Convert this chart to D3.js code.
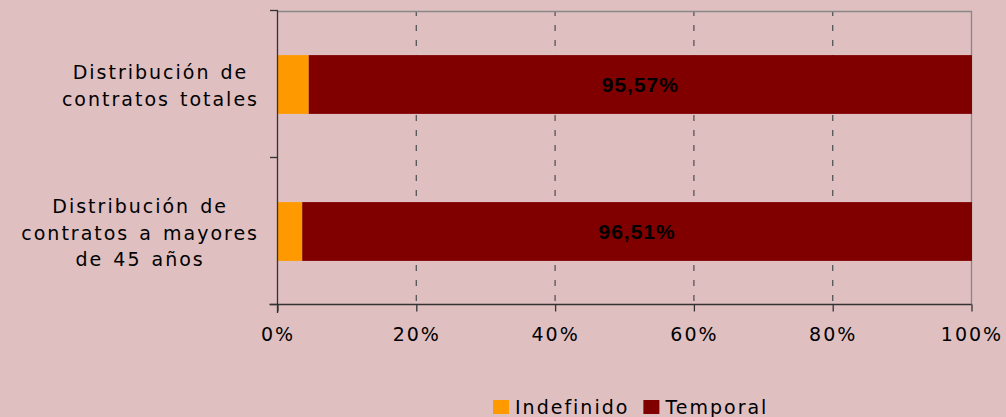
<!DOCTYPE html>
<html>
<head>
<meta charset="utf-8">
<script src="https://cdn.jsdelivr.net/npm/d3@7"></script>
<style>
  html, body { margin: 0; padding: 0; background: #dfbfc0; }
  svg { display: block; font-family: "DejaVu Sans", Verdana, sans-serif; }
</style>
</head>
<body>
<div id="chart"></div>
<script>
const categories = [
  ["Distribución de", "contratos totales"],
  ["Distribución de", "contratos a mayores", "de 45 años"]
];
const indefinido = [4.43, 3.49];
const temporal = [95.57, 96.51];
const seriesNames = ["Indefinido", "Temporal"];
const xTicks = [0, 20, 40, 60, 80, 100];

const colors = { Indefinido: "#ff9900", Temporal: "#800000" };

const width = 1006, height = 417;
const margin = { left: 278, right: 34, top: 11, bottom: 112 };
const fontSize = 19, spacing = "2px";

const svg = d3.select("#chart").append("svg")
  .attr("width", width)
  .attr("height", height);

svg.append("rect")
  .attr("width", width)
  .attr("height", height)
  .attr("fill", "#dfbfc0");

const x = d3.scaleLinear()
  .domain([0, 100])
  .range([margin.left, width - margin.right]);

const y = d3.scaleBand()
  .domain(d3.range(categories.length))
  .range([margin.top, height - margin.bottom])
  .paddingInner(0.6)
  .paddingOuter(0.3);

// dashed gridlines
svg.append("g")
  .selectAll("line")
  .data(xTicks.slice(1, -1))
  .join("line")
  .attr("x1", d => x(d) - 0.5)
  .attr("x2", d => x(d) - 0.5)
  .attr("y1", margin.top)
  .attr("y2", height - margin.bottom)
  .attr("stroke", "#555")
  .attr("stroke-width", 1.3)
  .attr("stroke-dasharray", "6,9")
  .attr("stroke-dashoffset", -14);

// top and right border
svg.append("path")
  .attr("d", `M${x(0)},${margin.top + 0.5}H${x(100) - 0.5}V${height - margin.bottom}`)
  .attr("fill", "none")
  .attr("stroke", "#888")
  .attr("stroke-width", 1.3);

// stacked bars
const rows = categories.map((c, i) => ({ i, ind: indefinido[i], tem: temporal[i] }));

svg.append("g")
  .selectAll("rect")
  .data(rows)
  .join("rect")
  .attr("x", x(0))
  .attr("y", d => y(d.i))
  .attr("width", d => x(d.ind) - x(0))
  .attr("height", y.bandwidth())
  .attr("fill", colors.Indefinido);

svg.append("g")
  .selectAll("rect")
  .data(rows)
  .join("rect")
  .attr("x", d => x(d.ind))
  .attr("y", d => y(d.i))
  .attr("width", d => x(d.ind + d.tem) - x(d.ind))
  .attr("height", y.bandwidth())
  .attr("fill", colors.Temporal);

svg.append("g")
  .selectAll("text")
  .data(rows)
  .join("text")
  .attr("x", d => x(d.ind + d.tem / 2))
  .attr("y", d => y(d.i) + y.bandwidth() / 2 + 7.5)
  .attr("text-anchor", "middle")
  .attr("font-family", "Arial, 'Liberation Sans', sans-serif")
  .attr("font-weight", "bold")
  .attr("font-size", 21)
  .attr("letter-spacing", "1px")
  .attr("fill", "#000")
  .text(d => d.tem.toFixed(2).replace(".", ",") + "%");

// axes
const yAxisG = svg.append("g");
yAxisG.append("line")
  .attr("x1", margin.left - 0.5).attr("x2", margin.left - 0.5)
  .attr("y1", margin.top).attr("y2", height - margin.bottom + 8)
  .attr("stroke", "#333")
  .attr("stroke-width", 1.3);
const yTickPos = [margin.top, (margin.top + height - margin.bottom) / 2, height - margin.bottom];
yAxisG.selectAll(".yt")
  .data(yTickPos)
  .join("line")
  .attr("x1", margin.left - 8).attr("x2", margin.left)
  .attr("y1", d => d - 0.5).attr("y2", d => d - 0.5)
  .attr("stroke", "#333")
  .attr("stroke-width", 1.3);

const xAxis = d3.axisBottom(x)
  .tickValues(xTicks)
  .tickSize(7)
  .tickFormat(d => d + "%");
const xg = svg.append("g")
  .attr("transform", `translate(-0.5,${height - margin.bottom - 0.5})`)
  .call(xAxis);
xg.select(".domain").attr("stroke", "#333").attr("stroke-width", 1.3)
  .attr("d", `M${x(0) - 8},0H${x(100)}`);
xg.selectAll(".tick line").attr("stroke", "#333").attr("stroke-width", 1.3);
xg.selectAll(".tick text")
  .attr("font-family", "'DejaVu Sans', Verdana, sans-serif")
  .attr("font-size", fontSize)
  .attr("letter-spacing", spacing)
  .attr("fill", "#000")
  .attr("y", 36.5)
  .attr("dy", 0);

// category labels: block centred, widest line ends at x = 257
const lineH = 26.7;
const catG = svg.append("g");
categories.forEach((lines, i) => {
  const t = catG.append("text")
    .attr("text-anchor", "middle")
    .attr("font-size", fontSize)
    .attr("letter-spacing", spacing)
    .attr("word-spacing", "2px")
    .attr("fill", "#000");
  const base = y(i) + y.bandwidth() / 2 + 8 - (lines.length - 1) * lineH / 2;
  const spans = t.selectAll("tspan")
    .data(lines)
    .join("tspan")
    .attr("y", (d, j) => base + j * lineH)
    .text(d => d);
  const maxW = d3.max(spans.nodes(), n => n.getComputedTextLength());
  spans.attr("x", 259 - maxW / 2);
});

// legend
const legend = svg.append("g").attr("transform", "translate(493,400)");
let lx = 0;
seriesNames.forEach(name => {
  legend.append("rect")
    .attr("x", lx).attr("y", 0)
    .attr("width", 16).attr("height", 14)
    .attr("fill", colors[name]);
  const t = legend.append("text")
    .attr("x", lx + 22).attr("y", 14)
    .attr("font-size", fontSize)
    .attr("letter-spacing", spacing)
    .attr("fill", "#000")
    .text(name);
  lx += 22 + t.node().getComputedTextLength() + 14;
});
</script>
</body>
</html>
